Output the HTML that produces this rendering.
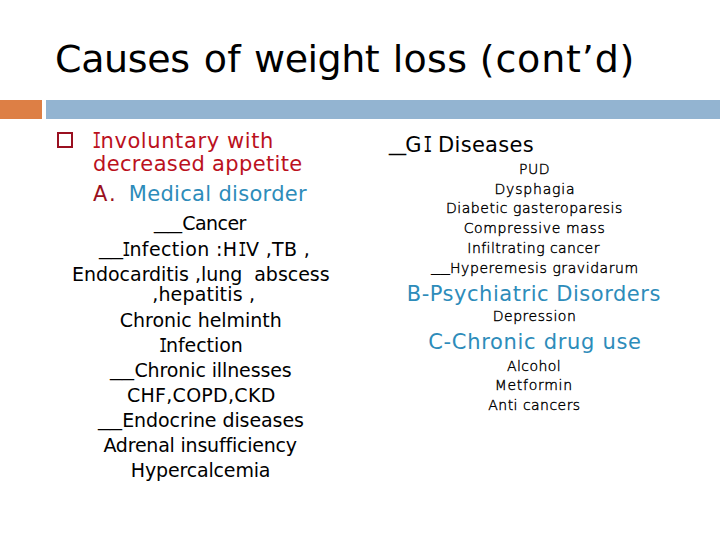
<!DOCTYPE html>
<html><head><meta charset="utf-8"><title>Causes of weight loss (cont’d)</title>
<style>
html,body{margin:0;padding:0;background:#fff}
body{width:720px;height:540px;position:relative;overflow:hidden;font-family:"DejaVu Sans","Liberation Sans",sans-serif}
.l{position:absolute;white-space:pre;line-height:1}
.s{font-weight:200;-webkit-text-stroke:0.4px #000}
.u{transform-origin:0 0;color:#000}
.I{display:inline-block;font-family:"DejaVu Sans Mono",monospace;text-align:center;letter-spacing:0;transform:scaleX(.72)}
.bar{position:absolute;top:100px;height:19px}
.sq{position:absolute;left:57px;top:132px;width:12px;height:12px;border:2px solid #9a1020}
</style></head><body>
<div class="bar" style="left:0;width:42px;background:#dd7f45"></div>
<div class="bar" style="left:46px;width:674px;background:#93b4d1"></div>
<div class="sq"></div>
<div class="l" style="left:55.0px;top:39.8px;font-size:38px;letter-spacing:-0.35px;color:#000">Causes</div>
<div class="l" style="left:203.8px;top:39.8px;font-size:38px;letter-spacing:0.1px;color:#000">of</div>
<div class="l" style="left:254.1px;top:39.8px;font-size:38px;letter-spacing:-0.52px;color:#000">weight</div>
<div class="l" style="left:392.7px;top:39.8px;font-size:38px;letter-spacing:0.3px;color:#000">loss</div>
<div class="l" style="left:479.8px;top:39.8px;font-size:38px;letter-spacing:0.8px;color:#000">(cont’d)</div>
<div class="l" style="left:91.0px;top:130.5px;font-size:21px;letter-spacing:0.6px;color:#bb111d"><span class="I" style="width:9.48px">I</span>nvoluntary with</div>
<div class="l" style="left:93.0px;top:154.0px;font-size:21px;letter-spacing:0.35px;color:#bb111d">decreased appetite</div>
<div class="l" style="left:93.0px;top:183.5px;font-size:21px;letter-spacing:2.0px;color:#9a1020">A.</div>
<div class="l" style="left:128.8px;top:183.5px;font-size:21px;letter-spacing:0.31px;color:#2d8cba">Medical disorder</div>
<div class="l" style="left:182.3px;top:213.5px;font-size:19px;letter-spacing:-0.56px;color:#000">Cancer</div>
<div class="l" style="left:121.0px;top:239.9px;font-size:19px;letter-spacing:0.37px;color:#000"><span class="I" style="width:8.41px">I</span>nfection :H<span class="I" style="width:8.41px">I</span>V ,TB ,</div>
<div class="l" style="left:72.0px;top:264.9px;font-size:19px;letter-spacing:-0.03px;color:#000">Endocarditis ,lung  abscess</div>
<div class="l" style="left:152.2px;top:284.7px;font-size:19px;letter-spacing:0.17px;color:#000">,hepatitis ,</div>
<div class="l" style="left:119.8px;top:310.8px;font-size:19px;letter-spacing:-0.03px;color:#000">Chronic helminth</div>
<div class="l" style="left:158.0px;top:335.9px;font-size:19px;letter-spacing:-0.07px;color:#000"><span class="I" style="width:7.97px">I</span>nfection</div>
<div class="l" style="left:134.4px;top:360.9px;font-size:19px;letter-spacing:-0.11px;color:#000">Chronic illnesses</div>
<div class="l" style="left:126.9px;top:385.9px;font-size:19px;letter-spacing:0.29px;color:#000">CHF,COPD,CKD</div>
<div class="l" style="left:122.2px;top:410.9px;font-size:19px;letter-spacing:-0.08px;color:#000">Endocrine diseases</div>
<div class="l" style="left:103.4px;top:435.9px;font-size:19px;letter-spacing:-0.21px;color:#000">Adrenal insufficiency</div>
<div class="l" style="left:130.8px;top:461.0px;font-size:19px;letter-spacing:-0.16px;color:#000">Hypercalcemia</div>
<div class="l" style="left:405.25px;top:134.8px;font-size:21px;letter-spacing:0.31px;color:#000">G<span class="I" style="width:9.19px">I</span> Diseases</div>
<div class="l s" style="left:519.0px;top:161.7px;font-size:14px;letter-spacing:0.5px;color:#000">PUD</div>
<div class="l s" style="left:494.5px;top:181.8px;font-size:14px;letter-spacing:0.81px;color:#000">Dysphagia</div>
<div class="l s" style="left:446.0px;top:200.9px;font-size:14px;letter-spacing:0.53px;color:#000">Diabetic gasteroparesis</div>
<div class="l s" style="left:463.7px;top:220.7px;font-size:14px;letter-spacing:0.63px;color:#000">Compressive mass</div>
<div class="l s" style="left:467.3px;top:240.6px;font-size:14px;letter-spacing:0.46px;color:#000">Infiltrating cancer</div>
<div class="l s" style="left:450.0px;top:260.8px;font-size:14px;letter-spacing:0.57px;color:#000">Hyperemesis gravidarum</div>
<div class="l" style="left:406.75px;top:283.5px;font-size:21px;letter-spacing:0.53px;color:#2d8cba">B-Psychiatric Disorders</div>
<div class="l s" style="left:492.7px;top:309.3px;font-size:14px;letter-spacing:0.54px;color:#000">Depression</div>
<div class="l" style="left:428.2px;top:332.0px;font-size:21px;letter-spacing:0.69px;color:#2d8cba">C-Chronic drug use</div>
<div class="l s" style="left:507.0px;top:358.9px;font-size:14px;letter-spacing:0.43px;color:#000">Alcohol</div>
<div class="l s" style="left:494.7px;top:378.1px;font-size:14px;letter-spacing:0.72px;color:#000">Metformin</div>
<div class="l s" style="left:488.3px;top:397.8px;font-size:14px;letter-spacing:0.46px;color:#000">Anti cancers</div>
<div class="l u" style="left:154px;top:213px;font-size:19px;transform:scaleX(1.474)">__</div>
<div class="l u" style="left:99px;top:239px;font-size:19px;transform:scaleX(1.263)">__</div>
<div class="l u" style="left:110px;top:360px;font-size:19px;transform:scaleX(1.263)">__</div>
<div class="l u" style="left:98px;top:410px;font-size:19px;transform:scaleX(1.263)">__</div>
<div class="l u" style="left:389px;top:133px;font-size:21px;transform:scaleX(1.619)">_</div>
<div class="l u" style="left:431px;top:260px;font-size:14px;transform:scaleX(1.357)">__</div>
</body></html>
